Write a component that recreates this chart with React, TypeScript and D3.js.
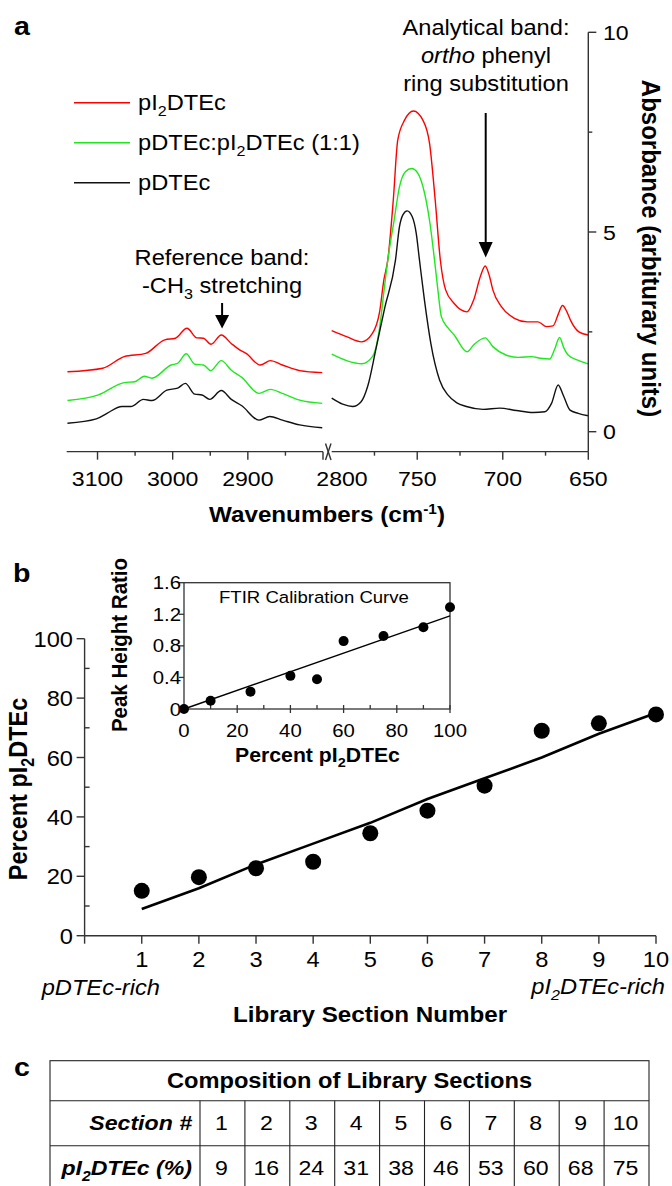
import React from 'react';
import * as d3 from 'd3';

// ---- panel a: FTIR spectra, [wavenumber, absorbance] ----
const redLeft = [[3140, 1.5], [3093, 1.59], [3064.5, 1.88], [3036, 1.96], [3010.5, 2.3], [2996.3, 2.34], [2981, 2.59], [2967.8, 2.35], [2959, 2.34], [2949, 2.19], [2935.3, 2.42], [2922.2, 2.21], [2911, 2.05], [2902.3, 1.96], [2883.5, 1.67], [2870, 1.78], [2854, 1.67], [2831, 1.53], [2801, 1.48]];
const greenLeft = [[3140, 0.78], [3098.8, 0.92], [3064.5, 1.23], [3050.3, 1.25], [3037.8, 1.39], [3027.6, 1.34], [3002, 1.67], [2993.4, 1.71], [2982, 1.95], [2970.6, 1.69], [2959, 1.67], [2949.5, 1.53], [2935.3, 1.78], [2922, 1.54], [2908, 1.36], [2885.3, 0.96], [2870, 1.06], [2854, 0.96], [2831, 0.79], [2801, 0.71]];
const blackLeft = [[3140, 0.21], [3101.6, 0.32], [3087.4, 0.46], [3067.5, 0.63], [3055.6, 0.63], [3038.9, 0.81], [3027.6, 0.78], [3007.7, 1.04], [2993.4, 1.09], [2983.2, 1.21], [2970.6, 0.94], [2961, 0.92], [2950.7, 0.81], [2935.3, 1.03], [2922, 0.81], [2908, 0.65], [2885.3, 0.29], [2870.9, 0.38], [2854, 0.29], [2831, 0.17], [2801, 0.1]];

const redRight = [[800, 2.53], [791.3, 2.38], [782.5, 2.25], [776.2, 2.46], [772, 3.0], [769.5, 3.8], [767.2, 4.3], [764, 5.8], [761.4, 7.3], [757.4, 7.8], [752.2, 8.03], [746.7, 7.8], [742.8, 7.22], [739.5, 5.8], [736.5, 4.3], [733.4, 3.55], [728.4, 3.21], [720.9, 3.0], [717, 3.3], [713, 3.9], [710.3, 4.15], [707.8, 3.9], [705.8, 3.55], [700.8, 3.13], [693.2, 2.84], [685.7, 2.75], [679.4, 2.75], [674.4, 2.63], [670.6, 2.65], [667.5, 2.95], [665.1, 3.16], [662.5, 3.0], [660.5, 2.8], [655.5, 2.5], [650, 2.42]];
const greenRight = [[800, 1.94], [791.3, 1.78], [782.5, 1.7], [776.2, 1.88], [772, 2.6], [769.5, 3.5], [767.2, 4.3], [763.5, 5.3], [760.4, 6.13], [756.9, 6.51], [753.3, 6.59], [749.6, 6.47], [745.7, 5.97], [742.5, 5.2], [739.9, 4.3], [737.8, 3.5], [735.9, 2.88], [732, 2.6], [728.4, 2.42], [720.9, 2.0], [717.1, 2.17], [710.3, 2.35], [705.8, 2.13], [698.2, 1.92], [690.7, 1.86], [683.2, 1.88], [678.1, 1.84], [672.6, 1.82], [669.8, 2.05], [666.8, 2.36], [664.3, 2.1], [661.8, 1.92], [655.5, 1.78], [650, 1.7]];
const blackRight = [[800, 0.84], [793.6, 0.69], [787.7, 0.63], [782.8, 0.75], [779, 1.13], [774, 2.1], [769, 3.1], [762.7, 4.3], [760.4, 5.13], [758.4, 5.43], [755.9, 5.53], [752.9, 5.38], [750.6, 4.97], [748.7, 4.3], [745.8, 3.3], [742, 2.2], [736.9, 1.29], [732.1, 0.92], [727.1, 0.73], [721.3, 0.63], [711.5, 0.56], [701.8, 0.59], [692, 0.53], [682.2, 0.48], [675.4, 0.5], [671.5, 0.71], [667.6, 1.17], [664.7, 0.92], [660.7, 0.54], [655.9, 0.46], [650, 0.4]];

const leftMajor = [3100, 3000, 2900];
const leftMinor = [3050, 2950, 2850];
const rightMajor = [750, 700, 650];
const rightMinor = [775, 725, 675];
const absTicks = [0, 5, 10];
const absMinor = [2.5, 7.5];

// ---- panel b ----
const sections = [1, 2, 3, 4, 5, 6, 7, 8, 9, 10];
const measured = [15.1, 19.7, 22.7, 24.9, 34.5, 42.1, 50.5, 69.0, 71.5, 74.5];
const composition = [9, 16, 24, 31, 38, 46, 53, 60, 68, 75];
const pctTicks = [0, 20, 40, 60, 80, 100];
const pctMinor = [10, 30, 50, 70, 90];

// inset calibration curve
const calPercent = [0, 10, 25, 40, 50, 60, 75, 90, 100];
const calRatio = [0.0, 0.105, 0.22, 0.42, 0.376, 0.86, 0.925, 1.035, 1.29];
const calFit = [[0, 0.0], [100, 1.18]];
const ratioTicks = [0, 0.4, 0.8, 1.2, 1.6];
const insetXTicks = [0, 20, 40, 60, 80, 100];
const insetXMinor = [10, 30, 50, 70, 90];

const FONT = '"Liberation Sans", Arial, Helvetica, sans-serif';
const AX = '#333';
const SX = 1.1; // the figure's text is a little wider than tall

function T({ x, y, size, bold = false, italic = false, anchor = 'start', rot = 0, children }: any) {
  let tr = `translate(${x},${y}) scale(${SX},1)`;
  if (rot) tr += ` rotate(${rot})`;
  return (
    <text transform={tr} fontSize={size} fontWeight={bold ? 'bold' : 'normal'}
      fontStyle={italic ? 'italic' : 'normal'} textAnchor={anchor} fill="#000">
      {children}
    </text>
  );
}

// text with a subscript in the middle: pre + sub + post
function subText(pre: string, sub: string, post: string, size: number) {
  const d = size * 0.28;
  return [
    <tspan key="a">{pre}</tspan>,
    <tspan key="b" fontSize={size * 0.68} dy={d}>{sub}</tspan>,
    <tspan key="c" dy={-d}>{post}</tspan>,
  ];
}

export default function App() {
  // panel a scales
  const xL = d3.scaleLinear().domain([3141, 2800]).range([66.7, 323]);
  const xR = d3.scaleLinear().domain([800, 650]).range([331.7, 588.3]);
  const yA = d3.scaleLinear().domain([0, 10]).range([431.7, 32.3]);
  const axisYa = yA(-0.5);

  const lineL = d3.line<number[]>().x(d => xL(d[0])).y(d => yA(d[1])).curve(d3.curveMonotoneX);
  const lineR = d3.line<number[]>().x(d => xR(d[0])).y(d => yA(d[1])).curve(d3.curveMonotoneX);

  // panel b scales
  const xB = d3.scaleLinear().domain([0, 10]).range([84.6, 656]);
  const yB = d3.scaleLinear().domain([0, 100]).range([935.7, 638.7]);
  const fitLine = d3.line<number>().x((_, i) => xB(sections[i])).y(d => yB(d));

  const xI = d3.scaleLinear().domain([0, 100]).range([184, 450]);
  const yI = d3.scaleLinear().domain([0, 1.6]).range([709, 582.7]);

  // table
  const col = d3.scaleLinear().domain([0, 10]).range([200, 649]);
  const rows = [1060.7, 1100.7, 1145.7, 1190.7];

  const spectra = [
    { l: redLeft, r: redRight, c: '#ff0000' },
    { l: greenLeft, r: greenRight, c: '#1ee81e' },
    { l: blackLeft, r: blackRight, c: '#111111' },
  ];
  const legend = [
    { c: '#ff0000', y: 102.7, label: subText('pI', '2', 'DTEc', 21.5) },
    { c: '#1ee81e', y: 142.7, label: subText('pDTEc:pI', '2', 'DTEc (1:1)', 21.5) },
    { c: '#111111', y: 182.7, label: 'pDTEc' },
  ];

  return (
    <svg width={672} height={1186} style={{ display: 'block', position: 'absolute', left: 0, top: 0 }}
      fontFamily={FONT}>
      <rect width={672} height={1186} fill="#fff" />

      {/* ---------- panel a ---------- */}
      <T x={14} y={35} size={26} bold>a</T>

      {legend.map((g, i) => (
        <g key={i}>
          <line x1={74} x2={130} y1={g.y} y2={g.y} stroke={g.c} strokeWidth={1.4} />
          <T x={138} y={g.y + 7} size={21.5}>{g.label}</T>
        </g>
      ))}

      {spectra.map((s, i) => (
        <g key={i} fill="none" stroke={s.c} strokeWidth={1.4}>
          <path d={lineL(s.l) || ''} />
          <path d={lineR(s.r) || ''} />
        </g>
      ))}

      {/* x axis, broken */}
      <g stroke={AX} strokeWidth={1.4}>
        <line x1={xL(3141)} x2={xL(2800)} y1={axisYa} y2={axisYa} />
        <line x1={xR(800)} x2={xR(650)} y1={axisYa} y2={axisYa} />
        {[...leftMajor, 2800].map(t => <line key={t} x1={xL(t)} x2={xL(t)} y1={axisYa} y2={axisYa + 8} />)}
        {leftMinor.map(t => <line key={t} x1={xL(t)} x2={xL(t)} y1={axisYa} y2={axisYa + 4} />)}
        {rightMajor.map(t => <line key={t} x1={xR(t)} x2={xR(t)} y1={axisYa} y2={axisYa + 8} />)}
        {rightMinor.map(t => <line key={t} x1={xR(t)} x2={xR(t)} y1={axisYa} y2={axisYa + 4} />)}
        <line x1={325.5} x2={331} y1={443.5} y2={460} />
        <line x1={331} x2={325.5} y1={443.5} y2={460} />
        {/* right y axis */}
        <line x1={xR(650)} x2={xR(650)} y1={axisYa} y2={yA(10)} />
        {absTicks.map(t => <line key={t} x1={xR(650)} x2={xR(650) + 8} y1={yA(t)} y2={yA(t)} />)}
        {absMinor.map(t => <line key={t} x1={xR(650)} x2={xR(650) + 4} y1={yA(t)} y2={yA(t)} />)}
      </g>
      {leftMajor.map(t => <T key={t} x={xL(t)} y={486} size={21} anchor="middle">{t}</T>)}
      <T x={342} y={486} size={21} anchor="middle">2800</T>
      {rightMajor.map(t => <T key={t} x={xR(t)} y={486} size={21} anchor="middle">{t}</T>)}
      {absTicks.map(t => <T key={t} x={603} y={yA(t) + 7.5} size={21}>{t}</T>)}

      <T x={327} y={521.7} size={22} bold anchor="middle">
        Wavenumbers (cm<tspan fontSize={14} dy={-8}>-1</tspan><tspan dy={8}>)</tspan>
      </T>
      <T x={642} y={248.5} size={24} bold anchor="middle" rot={90}>Absorbance (arbiturary units)</T>

      {/* annotations */}
      <T x={486} y={35} size={21.5} anchor="middle">Analytical band:</T>
      <T x={486} y={62.7} size={21.5} anchor="middle"><tspan fontStyle="italic">ortho</tspan> phenyl</T>
      <T x={486} y={90.5} size={21.5} anchor="middle">ring substitution</T>
      <line x1={485.7} x2={485.7} y1={113} y2={244} stroke="#000" strokeWidth={2} />
      <polygon points="478.7,242 492.7,242 485.7,257.5" fill="#000" />

      <T x={222} y={265} size={21.5} anchor="middle">Reference band:</T>
      <T x={222} y={293} size={21.5} anchor="middle">{subText('-CH', '3', ' stretching', 21.5)}</T>
      <line x1={222.1} x2={222.1} y1={303} y2={317} stroke="#000" strokeWidth={2} />
      <polygon points="215.1,315 229.1,315 222.1,328.5" fill="#000" />

      {/* ---------- panel b ---------- */}
      <T x={13} y={581.7} size={26} bold>b</T>

      <g stroke={AX} strokeWidth={1.4}>
        <line x1={xB(0)} x2={xB(0)} y1={yB(0)} y2={yB(100)} />
        <line x1={xB(0)} x2={xB(10)} y1={yB(0)} y2={yB(0)} />
        {pctTicks.map(t => <line key={t} x1={xB(0) - 8} x2={xB(0)} y1={yB(t)} y2={yB(t)} />)}
        {pctMinor.map(t => <line key={t} x1={xB(0)} x2={xB(0) + 5} y1={yB(t)} y2={yB(t)} />)}
        {[0, ...sections].map(t => <line key={t} x1={xB(t)} x2={xB(t)} y1={yB(0)} y2={yB(0) + 8} />)}
      </g>
      {pctTicks.map(t => <T key={t} x={73} y={yB(t) + 8} size={21.5} anchor="end">{t}</T>)}
      {sections.map(t => <T key={t} x={xB(t)} y={966.7} size={21.5} anchor="middle">{t}</T>)}
      <T x={41.7} y={995} size={21.5} italic>pDTEc-rich</T>
      <T x={665} y={993.5} size={21.5} italic anchor="end">{subText('pI', '2', 'DTEc-rich', 21.5)}</T>
      <T x={370} y={1021.7} size={22} bold anchor="middle">Library Section Number</T>
      <T x={27} y={789} size={23.5} bold anchor="middle" rot={-90}>{subText('Percent pI', '2', 'DTEc', 23.5)}</T>

      <path d={fitLine(composition) || ''} fill="none" stroke="#000" strokeWidth={2.6} />
      {measured.map((v, i) => <circle key={i} cx={xB(sections[i])} cy={yB(v)} r={8} fill="#000" />)}

      {/* inset */}
      <g stroke={AX} strokeWidth={1.3} fill="none">
        <rect x={xI(0)} y={yI(1.6)} width={xI(100) - xI(0)} height={yI(0) - yI(1.6)} />
        {ratioTicks.map(t => <line key={t} x1={xI(0) - 5} x2={xI(0)} y1={yI(t)} y2={yI(t)} />)}
        {insetXTicks.map(t => <line key={t} x1={xI(t)} x2={xI(t)} y1={yI(0) - 4} y2={yI(0) + 4} />)}
        {insetXMinor.map(t => <line key={t} x1={xI(t)} x2={xI(t)} y1={yI(0) - 4} y2={yI(0)} />)}
      </g>
      {ratioTicks.map(t => <T key={t} x={181} y={yI(t) + 6.5} size={18.5} anchor="end">{t}</T>)}
      {insetXTicks.map(t => <T key={t} x={xI(t)} y={737} size={18.5} anchor="middle">{t}</T>)}
      <T x={219} y={603.3} size={16.9}>FTIR Calibration Curve</T>
      <T x={127} y={645} size={20.5} bold anchor="middle" rot={-90}>Peak Height Ratio</T>
      <T x={317.5} y={761.7} size={19.3} bold anchor="middle">{subText('Percent pI', '2', 'DTEc', 19.3)}</T>
      <line x1={xI(calFit[0][0])} y1={yI(calFit[0][1])} x2={xI(calFit[1][0])} y2={yI(calFit[1][1])}
        stroke="#000" strokeWidth={1.4} />
      {calPercent.map((p, i) => <circle key={p} cx={xI(p)} cy={yI(calRatio[i])} r={5} fill="#000" />)}

      {/* ---------- panel c ---------- */}
      <T x={14} y={1076} size={26} bold>c</T>
      <g stroke="#222" strokeWidth={1.1} fill="none">
        <rect x={50} y={rows[0]} width={599} height={rows[3] - rows[0]} />
        <line x1={50} x2={649} y1={rows[1]} y2={rows[1]} />
        <line x1={50} x2={649} y1={rows[2]} y2={rows[2]} />
        {d3.range(0, 10).map(i => <line key={i} x1={col(i)} x2={col(i)} y1={rows[1]} y2={rows[3]} />)}
      </g>
      <T x={349.5} y={1088.3} size={21.5} bold anchor="middle">Composition of Library Sections</T>
      <T x={192} y={1130} size={21} bold italic anchor="end">Section #</T>
      <T x={192} y={1175} size={21} bold italic anchor="end">{subText('pI', '2', 'DTEc (%)', 21)}</T>
      {sections.map((s, i) => <T key={s} x={col(i + 0.5) - 1} y={1130} size={21} anchor="middle">{s}</T>)}
      {composition.map((v, i) => <T key={i} x={col(i + 0.5) - 1} y={1175} size={21} anchor="middle">{v}</T>)}
    </svg>
  );
}
